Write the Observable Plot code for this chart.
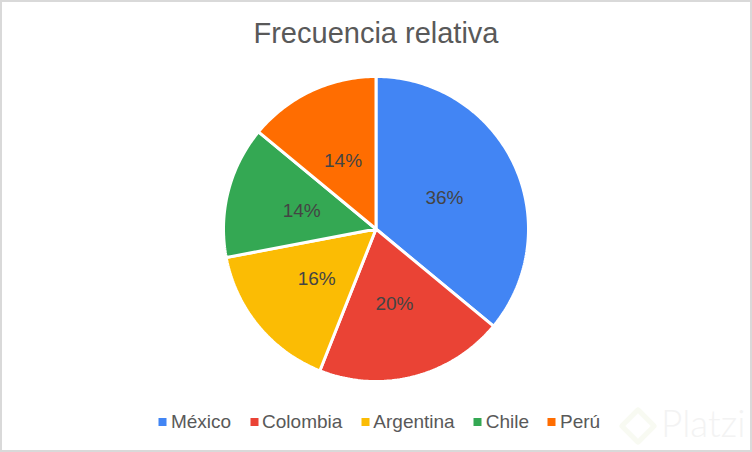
<!DOCTYPE html>
<html>
<head>
<meta charset="utf-8">
<script src="https://cdn.jsdelivr.net/npm/d3@7"></script>
<script src="https://cdn.jsdelivr.net/npm/@observablehq/plot@0.6"></script>
<style>
  html, body { margin: 0; padding: 0; background: #fff; }
  #frame { position: relative; box-sizing: border-box; width: 752px; height: 452px; border: 2px solid #d9d9d9; background: #fff; overflow: hidden; font-family: "Liberation Sans", Arial, sans-serif; }
  #title { height: 57px; line-height: 62px; text-align: center; font-size: 29px; color: #595959; }
  #chart svg { display: block; }
  #legend { position: absolute; left: 0; right: 0; top: 408px; height: 24px; display: flex; justify-content: center; align-items: center; font-size: 19px; color: #595959; transform: translateX(3.5px); }
  .item { display: flex; align-items: center; margin-right: 19px; }
  .item:last-child { margin-right: 0; }
  .swatch { width: 8px; height: 8px; margin-right: 4px; }
  #wm-text { position: absolute; left: 659px; top: 398px; font-family: Lato, sans-serif; font-weight: 300; font-size: 37px; color: #f3f3f3; }
  #wm-logo { position: absolute; left: 622px; top: 410px; box-sizing: border-box; width: 28px; height: 28px; border: 5px solid #f8faf2; border-radius: 3px; transform: rotate(45deg); }
</style>
</head>
<body>
<div id="frame">
  <div id="title"></div>
  <div id="chart"></div>
  <div id="wm-logo"></div>
  <div id="wm-text">Platzi</div>
  <div id="legend"></div>
</div>
<script>
const chartTitle = "Frecuencia relativa";
const categories = ["México", "Colombia", "Argentina", "Chile", "Perú"];
const shares = [36, 20, 16, 14, 14];
const colors = ["#4285f4", "#ea4335", "#fbbc04", "#34a853", "#ff6d01"];

const width = 748, height = 340, radius = 152.5;
const offsetX = -0.5, offsetY = -0.5;
const total = d3.sum(shares);

let cumulative = 0;
const slices = categories.map((name, i) => {
  const start = cumulative / total * 2 * Math.PI;
  cumulative += shares[i];
  const end = cumulative / total * 2 * Math.PI;
  return {name, share: shares[i], start, end};
});

// Slice outlines in unit-circle data space, placed by Plot's x and y scales.
const outline = slices.flatMap(s => {
  const steps = Math.max(2, Math.ceil((s.end - s.start) / (Math.PI / 180)));
  const rim = d3.range(steps + 1).map(k => {
    const a = s.start + (s.end - s.start) * k / steps;
    return {name: s.name, x: Math.sin(a), y: Math.cos(a)};
  });
  return [{name: s.name, x: 0, y: 0}, ...rim];
});

const labels = slices.map(s => {
  const a = (s.start + s.end) / 2;
  return {x: 0.5 * Math.sin(a), y: 0.5 * Math.cos(a), label: s.share + "%"};
});

const plot = Plot.plot({
  width, height,
  margin: 0,
  style: {background: "transparent", overflow: "visible"},
  x: {domain: [(-width / 2 - offsetX) / radius, (width / 2 - offsetX) / radius], axis: null},
  y: {domain: [(-height / 2 + offsetY) / radius, (height / 2 + offsetY) / radius], axis: null},
  color: {domain: categories, range: colors},
  marks: [
    Plot.line(outline, {
      x: "x", y: "y", z: "name", fill: "name",
      stroke: "white", strokeWidth: 3, strokeLinejoin: "miter",
      curve: "linear-closed"
    }),
    Plot.text(labels, {
      x: "x", y: "y", text: "label", dy: 1, dx: -0.5,
      fill: "#444444", fontSize: 19,
      fontFamily: "Liberation Sans, Arial, sans-serif"
    })
  ]
});

document.getElementById("title").textContent = chartTitle;
document.getElementById("chart").appendChild(plot);

const legend = document.getElementById("legend");
categories.forEach((name, i) => {
  const item = document.createElement("div");
  item.className = "item";
  const swatch = document.createElement("div");
  swatch.className = "swatch";
  swatch.style.background = colors[i];
  const label = document.createElement("span");
  label.textContent = name;
  item.append(swatch, label);
  legend.append(item);
});
</script>
</body>
</html>
